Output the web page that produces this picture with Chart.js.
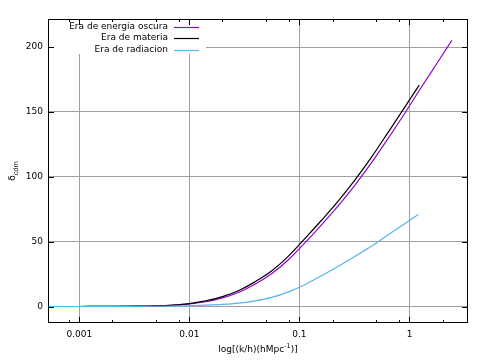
<!DOCTYPE html>
<html>
<head>
<meta charset="utf-8">
<script src="https://cdn.jsdelivr.net/npm/chart.js@4.4.1/dist/chart.umd.min.js"></script>
<style>
  html, body { margin: 0; padding: 0; background: #fff; }
</style>
</head>
<body>
<canvas id="chart" width="482" height="363"></canvas>
<script>
// Growth of the CDM perturbation in each era
const kDark = [0.00052, 0.001, 0.002, 0.003, 0.005, 0.007, 0.01, 0.0141, 0.02, 0.0282, 0.0398, 0.0562, 0.0794, 0.112, 0.158, 0.224, 0.316, 0.447, 0.631, 0.891, 1.259, 1.778, 2.43]
const deltaDark = [0, 0.03, 0.09, 0.2, 0.5, 1.0, 2.0, 3.7, 6.65, 11.0, 17.3, 25.4, 36.0, 49.0, 62.8, 77.4, 93.0, 110.3, 128.8, 148.0, 168.0, 187.5, 205.2]

const kMatter = [0.00052, 0.001, 0.002, 0.003, 0.005, 0.007, 0.01, 0.0141, 0.02, 0.0282, 0.0398, 0.0562, 0.0794, 0.112, 0.158, 0.224, 0.316, 0.447, 0.631, 0.891, 1.225]
const deltaMatter = [0, 0.03, 0.1, 0.25, 0.6, 1.15, 2.3, 4.3, 7.6, 12.4, 19.2, 27.5, 38.8, 52.3, 66.3, 81.0, 97.0, 114.6, 133.5, 152.7, 170.6]

const kRad = [0.00052, 0.001, 0.002, 0.003, 0.005, 0.007, 0.01, 0.0141, 0.02, 0.0282, 0.0398, 0.0562, 0.0794, 0.112, 0.158, 0.224, 0.316, 0.447, 0.631, 0.891, 1.2]
const deltaRad = [0, 0.02, 0.05, 0.1, 0.2, 0.35, 0.6, 1.0, 1.6, 2.6, 4.3, 7.0, 11.3, 16.8, 23.7, 30.9, 38.4, 46.2, 54.9, 63.5, 70.9]

const seriesLabels = ['Era de energia oscura', 'Era de materia', 'Era de radiacion']
const seriesColors = ['#9400d3', '#000000', '#56b4e9']

const xMajor = [0.001, 0.01, 0.1, 1]
const xMinor = [0.0008, 0.002, 0.005, 0.008, 0.02, 0.05, 0.08, 0.2, 0.5, 0.8, 2]
const yMajor = [0, 50, 100, 150, 200]

const FONT = 'DejaVu Sans, sans-serif'
const toPoints = (xs, ys) => xs.map((x, i) => ({ x, y: ys[i] }))

// Gnuplot-like frame, inward ticks, key and axis titles
const gnuplotDecor = {
  id: 'gnuplotDecor',
  afterDraw(chart) {
    const { ctx, chartArea: a, scales: { x, y } } = chart
    ctx.save()

    // white key box hides the grid under it
    const keyRight = a.left + 157
    ctx.fillStyle = '#fff'
    ctx.fillRect(a.left + 1, a.top + 1, keyRight - a.left, 34)

    // ticks
    ctx.strokeStyle = '#000'
    ctx.lineWidth = 1
    ctx.beginPath()
    const vTick = (v, len) => {
      const px = Math.round(x.getPixelForValue(v)) + 0.5
      ctx.moveTo(px, a.bottom); ctx.lineTo(px, a.bottom - len)
      ctx.moveTo(px, a.top); ctx.lineTo(px, a.top + len)
    }
    xMajor.forEach(v => vTick(v, 6))
    xMinor.forEach(v => vTick(v, 3))
    yMajor.forEach(v => {
      const py = Math.round(y.getPixelForValue(v)) + 0.5
      ctx.moveTo(a.left, py); ctx.lineTo(a.left + 6, py)
      ctx.moveTo(a.right, py); ctx.lineTo(a.right - 6, py)
    })
    ctx.stroke()
    ctx.strokeRect(a.left + 0.5, a.top + 0.5, a.width - 1, a.height - 1)

    // key: text right aligned, sample line on the right
    ctx.font = '9px ' + FONT
    ctx.textAlign = 'right'
    ctx.textBaseline = 'middle'
    seriesLabels.forEach((label, i) => {
      const ry = a.top + 7.5 + i * 11.5
      ctx.fillStyle = '#000'
      ctx.fillText(label, a.left + 120, ry)
      ctx.strokeStyle = seriesColors[i]
      ctx.lineWidth = 1.2
      ctx.beginPath()
      ctx.moveTo(a.left + 126, Math.round(ry) + 0.5)
      ctx.lineTo(a.left + 151, Math.round(ry) + 0.5)
      ctx.stroke()
    })

    // x title with superscript
    const cx = (a.left + a.right) / 2
    const parts = [['log[(k/h)(hMpc', 9, 0], ['-1', 6.5, -3.5], [')]', 9, 0]]
    let total = 0
    parts.forEach(p => { ctx.font = p[1] + 'px ' + FONT; total += ctx.measureText(p[0]).width })
    let tx = cx - total / 2
    ctx.textAlign = 'left'
    ctx.fillStyle = '#000'
    parts.forEach(p => {
      ctx.font = p[1] + 'px ' + FONT
      ctx.fillText(p[0], tx, 350 + p[2])
      tx += ctx.measureText(p[0]).width
    })

    // y title: delta with subscript cdm
    ctx.translate(13, (a.top + a.bottom) / 2)
    ctx.rotate(-Math.PI / 2)
    const yParts = [['δ', 9, 0], ['cdm', 6.5, 3]]
    total = 0
    yParts.forEach(p => { ctx.font = p[1] + 'px ' + FONT; total += ctx.measureText(p[0]).width })
    tx = -total / 2
    yParts.forEach(p => {
      ctx.font = p[1] + 'px ' + FONT
      ctx.fillText(p[0], tx, p[2])
      tx += ctx.measureText(p[0]).width
    })

    ctx.restore()
  }
}

const lineStyle = { borderWidth: 1.2, pointRadius: 0, cubicInterpolationMode: 'monotone', fill: false }

new Chart(document.getElementById('chart'), {
  type: 'line',
  data: {
    datasets: [
      { ...lineStyle, label: seriesLabels[0], data: toPoints(kDark, deltaDark), borderColor: seriesColors[0], order: 3 },
      { ...lineStyle, label: seriesLabels[1], data: toPoints(kMatter, deltaMatter), borderColor: seriesColors[1], order: 2 },
      { ...lineStyle, label: seriesLabels[2], data: toPoints(kRad, deltaRad), borderColor: seriesColors[2], order: 1 },
    ],
  },
  options: {
    responsive: false,
    animation: false,
    layout: { padding: { top: 19, right: 14, left: 0, bottom: 0 } },
    plugins: { legend: { display: false }, tooltip: { enabled: false } },
    scales: {
      x: {
        type: 'logarithmic',
        min: 0.00052,
        max: 3.4,
        afterBuildTicks: s => { s.ticks = xMajor.map(v => ({ value: v })) },
        afterFit: s => { s.height = 40 },
        grid: { color: '#a0a0a0', lineWidth: 1, drawTicks: false },
        border: { display: false },
        ticks: {
          font: { family: FONT, size: 9 },
          color: '#000',
          padding: 6,
          maxRotation: 0,
          autoSkip: false,
          callback: v => String(v),
        },
      },
      y: {
        type: 'linear',
        min: -12.7,
        max: 221.6,
        afterBuildTicks: s => { s.ticks = yMajor.map(v => ({ value: v })) },
        afterFit: s => { s.width = 48 },
        grid: { color: '#a0a0a0', lineWidth: 1, drawTicks: false },
        border: { display: false },
        ticks: {
          font: { family: FONT, size: 9 },
          color: '#000',
          padding: 5,
        },
      },
    },
  },
  plugins: [gnuplotDecor],
})
</script>
</body>
</html>
